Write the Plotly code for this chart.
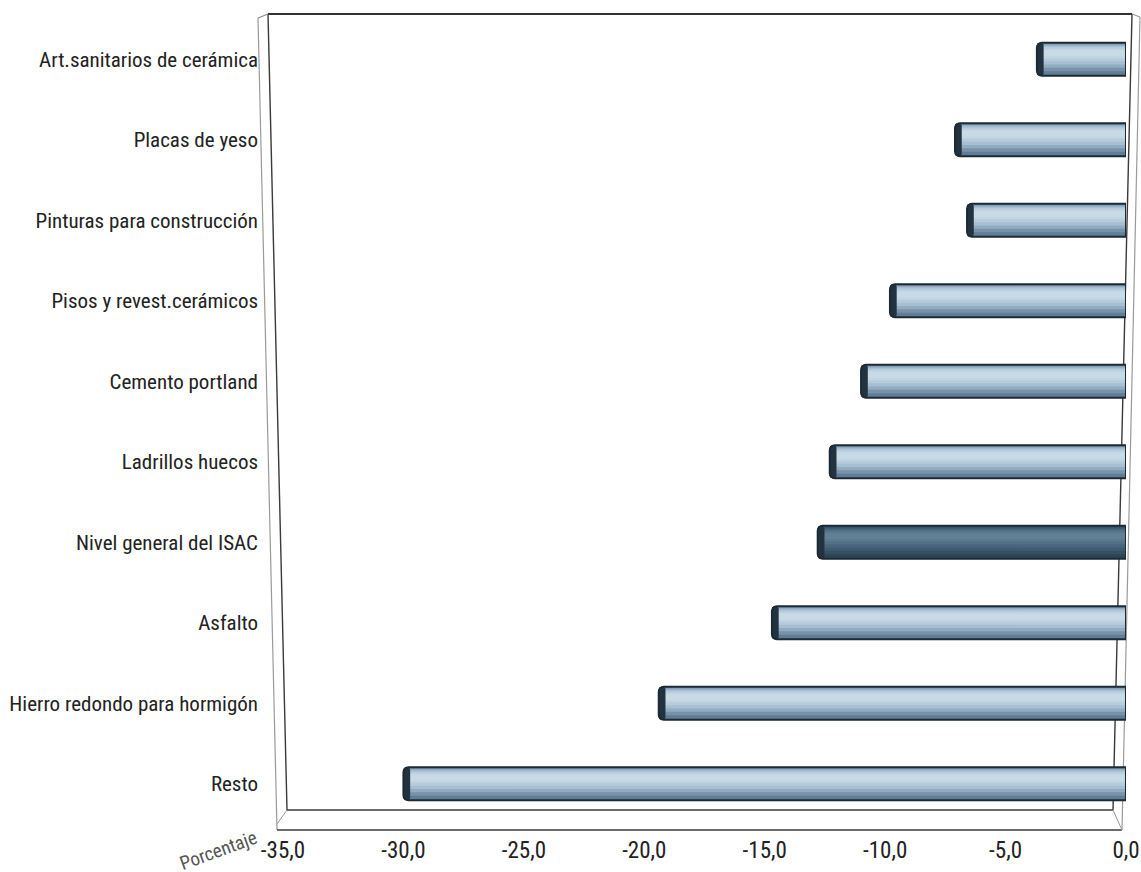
import plotly.graph_objects as go

# Variación porcentual por insumo (ISAC)
categorias = [
    "Art.sanitarios de cerámica",
    "Placas de yeso",
    "Pinturas para construcción",
    "Pisos y revest.cerámicos",
    "Cemento portland",
    "Ladrillos huecos",
    "Nivel general del ISAC",
    "Asfalto",
    "Hierro redondo para hormigón",
    "Resto",
]
variacion = [-3.7, -7.1, -6.6, -9.8, -11.0, -12.3, -12.8, -14.7, -19.4, -30.0]

tick_vals = [-35, -30, -25, -20, -15, -10, -5, 0]
tick_text = ["-35,0", "-30,0", "-25,0", "-20,0", "-15,0", "-10,0", "-5,0", "0,0"]

DESTACADO = "Nivel general del ISAC"

# page geometry (pixels)
W, H = 1141, 872
ML, MR, MT, MB = 283, 15, 19, 48
PX0, PX1 = ML, W - MR
PY0, PY1 = MT, H - MB

FONT = "Roboto Condensed, Liberation Sans Narrow, sans-serif"


def px(x):
    return (x - PX0) / (PX1 - PX0)


def py(y):
    return (PY1 - y) / (PY1 - PY0)


def tono(normal, destacado):
    return [destacado if c == DESTACADO else normal for c in categorias]


BAR_W = 0.41
# cylinder shading: bands given as (from, to) fractions of the bar height measured
# from its top edge, each lighter than the one beneath it
bandas = [
    (0.00, 1.00, "#5f7d95", "#2c4456"),
    (0.00, 0.86, "#7893a9", "#354f63"),
    (0.05, 0.76, "#91abc0", "#3f5b70"),
    (0.09, 0.66, "#a7bfd2", "#49667c"),
    (0.13, 0.56, "#b7cbdc", "#537086"),
    (0.18, 0.47, "#c2d5e3", "#5b798f"),
    (0.23, 0.40, "#c9dae7", "#617f95"),
]

fig = go.Figure()
for a, b, c_norm, c_dest in bandas:
    fig.add_trace(
        go.Bar(
            x=variacion,
            y=categorias,
            orientation="h",
            width=(b - a) * BAR_W,
            offset=-BAR_W / 2 + a * BAR_W,
            marker=dict(color=tono(c_norm, c_dest), line=dict(width=0), cornerradius=3),
            hoverinfo="skip",
            showlegend=False,
        )
    )

# dark end cap on the open (left) end of each cylinder
fig.add_trace(
    go.Bar(
        x=[0.28] * len(variacion),
        base=variacion,
        y=categorias,
        orientation="h",
        width=BAR_W,
        offset=-BAR_W / 2,
        marker=dict(color="#22323e", line=dict(width=0), cornerradius=4),
        hoverinfo="skip",
        showlegend=False,
    )
)

# outline drawn on top so the dark rim stays visible
fig.add_trace(
    go.Bar(
        x=variacion,
        y=categorias,
        orientation="h",
        width=BAR_W,
        offset=-BAR_W / 2,
        marker=dict(color="rgba(0,0,0,0)", line=dict(color="#1c2a35", width=2), cornerradius=5),
        hovertemplate="%{y}: %{x:.1f}%<extra></extra>",
        showlegend=False,
    )
)

# 3D box frame around the plotting area
marco = [
    # back wall
    ((268, 14), (1132, 14), "#333333", 1.8),
    ((268, 14), (287, 810), "#3a3a3a", 1.4),
    ((287, 810), (1113, 810), "#3a3a3a", 1.4),
    ((1132, 14), (1113, 810), "#3a3a3a", 1.4),
    # front edges
    ((258, 18), (268, 14), "#8a8a8a", 1.2),
    ((258, 18), (277, 830), "#9a9a9a", 1.2),
    ((277, 830), (1122, 830), "#3a3a3a", 1.4),
    ((277, 824), (287, 810), "#9a9a9a", 1.0),
    ((1113, 810), (1122, 830), "#9a9a9a", 1.0),
    ((1132, 14), (1140, 17), "#8a8a8a", 1.0),
    ((1140, 17), (1122, 830), "#9a9a9a", 1.2),
]
shapes = []
for (x0, y0), (x1, y1), col, lw in marco:
    shapes.append(
        dict(
            type="line",
            xref="paper",
            yref="paper",
            x0=px(x0),
            y0=py(y0),
            x1=px(x1),
            y1=py(y1),
            line=dict(color=col, width=lw),
            layer="below",
        )
    )

fig.update_layout(
    width=W,
    height=H,
    margin=dict(l=ML, r=MR, t=MT, b=MB, autoexpand=False),
    paper_bgcolor="white",
    plot_bgcolor="white",
    barmode="overlay",
    shapes=shapes,
    font=dict(family=FONT, size=21, color="#222222"),
    xaxis=dict(
        range=[-35, 0],
        tickvals=tick_vals,
        ticktext=tick_text,
        showgrid=False,
        zeroline=False,
        showline=False,
        ticks="",
        automargin=False,
        ticklabelstandoff=10,
        tickfont=dict(family=FONT, size=23, color="#222222"),
        fixedrange=True,
    ),
    yaxis=dict(
        categoryorder="array",
        categoryarray=categorias,
        autorange="reversed",
        showgrid=False,
        zeroline=False,
        showline=False,
        ticks="",
        automargin=False,
        ticklabelstandoff=24,
        tickfont=dict(family=FONT, size=21, color="#222222"),
        fixedrange=True,
    ),
    annotations=[
        dict(
            text="Porcentaje",
            xref="paper",
            yref="paper",
            x=px(218),
            y=py(850),
            xanchor="center",
            yanchor="middle",
            showarrow=False,
            textangle=-20,
            font=dict(family=FONT, size=19, color="#555555"),
        )
    ],
)

fig.write_html("out.html")
